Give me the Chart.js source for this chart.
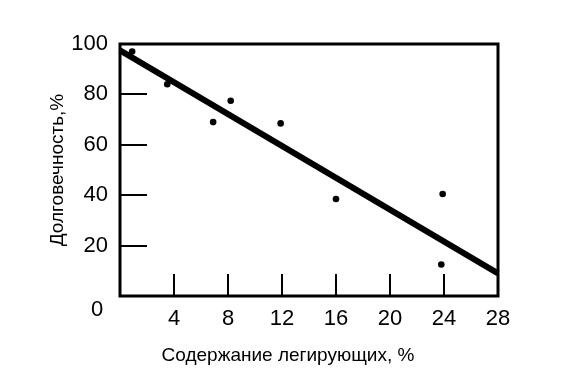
<!DOCTYPE html>
<html><head><meta charset="utf-8">
<script src="https://cdn.jsdelivr.net/npm/chart.js@4/dist/chart.umd.min.js"></script>
<style>html,body{margin:0;padding:0;background:#fff;}#wrap{width:568px;height:380px;}</style>
</head><body><div id="wrap"><canvas id="c" width="568" height="380"></canvas></div>
<script>
const alloyContent = [0.9, 3.5, 6.9, 8.2, 11.9, 16, 23.9, 23.8];
const durability = [97, 84, 69, 77.5, 68.5, 38.5, 40.5, 12.5];
const trendX = [0, 28];
const trendY = [97.5, 9];
const xTicks = [4, 8, 12, 16, 20, 24, 28];
const yTicks = [20, 40, 60, 80, 100];
const xTitle = 'Содержание легирующих, %';
const yTitle = 'Долговечность,%';
const FONT = '"Liberation Sans", Arial, sans-serif';

const framePlugin = {
  id: 'frame',
  afterDatasetsDraw(chart) {
    const {ctx, chartArea: a, scales: {x, y}} = chart;
    ctx.save();
    ctx.strokeStyle = '#000';
    ctx.lineWidth = 3;
    ctx.strokeRect(a.left, a.top, a.right - a.left, a.bottom - a.top);
    ctx.lineWidth = 2;
    ctx.beginPath();
    xTicks.forEach(v => { if (v < 28) { const px = Math.round(x.getPixelForValue(v)); ctx.moveTo(px, a.bottom); ctx.lineTo(px, a.bottom - 22); } });
    yTicks.forEach(v => { if (v < 100) { const py = Math.round(y.getPixelForValue(v)); ctx.moveTo(a.left, py); ctx.lineTo(a.left + 27, py); } });
    ctx.stroke();
    ctx.fillStyle = '#000';
    ctx.font = '22px ' + FONT;
    ctx.textAlign = 'center';
    ctx.textBaseline = 'middle';
    ctx.fillText('0', 97, 310);
    ctx.font = '19px ' + FONT;
    ctx.fillText(xTitle, 288, 356);
    ctx.restore();
  }
};

new Chart(document.getElementById('c'), {
  type: 'scatter',
  data: {
    datasets: [
      { data: alloyContent.map((v, i) => ({x: v, y: durability[i]})), pointRadius: 3.3, pointBackgroundColor: '#000', pointBorderWidth: 0, showLine: false, order: 1 },
      { data: trendX.map((v, i) => ({x: v, y: trendY[i]})), showLine: true, borderColor: '#000', borderWidth: 6, pointRadius: 0, order: 2 }
    ]
  },
  options: {
    responsive: false, animation: false, clip: false,
    layout: { padding: { left: 44, right: 70, top: 44, bottom: 0 } },
    plugins: { legend: { display: false }, tooltip: { enabled: false } },
    scales: {
      x: {
        type: 'linear', min: 0, max: 28,
        afterFit(s) { s.height = 84; },
        grid: { display: false, drawTicks: false }, border: { display: false },
        ticks: { stepSize: 4, padding: 10, color: '#000', font: { family: FONT, size: 22 }, callback: v => xTicks.includes(v) ? String(v) : '' }
      },
      y: {
        type: 'linear', min: 0, max: 100,
        afterFit(s) { s.width = 76; },
        grid: { display: false, drawTicks: false }, border: { display: false },
        ticks: { stepSize: 20, padding: 12, color: '#000', font: { family: FONT, size: 22 }, callback: v => yTicks.includes(v) ? String(v) : '' },
        title: { display: true, text: yTitle, color: '#000', font: { family: FONT, size: 19 }, padding: { top: 2, bottom: 0 } }
      }
    }
  },
  plugins: [framePlugin]
});
</script></body></html>
